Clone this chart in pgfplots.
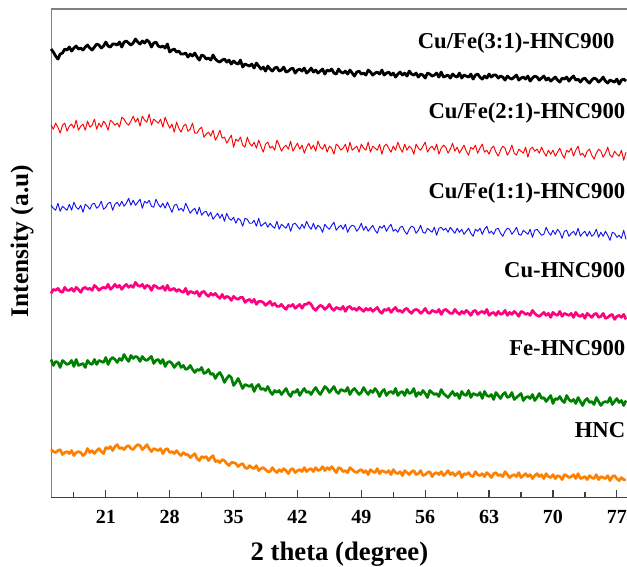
\documentclass[border=0pt]{standalone}
\usepackage{pgfplots}
\usepackage{pgfplotstable}
\pgfplotsset{compat=1.18}
\usepackage{fontspec}
\setmainfont{Liberation Serif}
\definecolor{cpink}{RGB}{255,0,127}
\definecolor{cgreen}{RGB}{0,128,0}
\definecolor{corange}{RGB}{255,128,0}
\definecolor{cblue}{RGB}{20,20,240}
\pgfplotstableread{
x bk rd bl pk gr or
15 448 372 292 204 138 48
15.25 445 368 289 208 132 46
15.5 441 374 287 207 136 45
15.75 438 370 294 209 135 47
16 443 364 286 206 130 48
16.25 444 372 291 205 137 43
16.5 448 374 289 210 135 45
16.75 447 366 287 207 133 46
17 450 371 293 207 134 44
17.25 446 373 287 209 137 47
17.5 449 369 295 206 131 42
17.75 451 377 290 210 138 45
18 448 367 288 208 132 46
18.25 449 371 292 205 133 45
18.5 447 373 285 209 134 42
18.75 450 367 293 210 130 44
19 452 376 291 208 137 49
19.25 449 370 288 209 134 45
19.5 447 372 293 207 133 47
19.75 450 378 294 212 138 44
20 453 368 289 210 133 47
20.25 452 374 291 207 137 49
20.5 449 370 296 209 136 46
20.75 451 376 288 210 135 44
21 455 373 290 209 140 50
21.25 451 367 294 213 133 49
21.5 450 377 295 208 138 51
21.75 453 375 287 210 140 47
22 453 372 293 213 138 51
22.25 452 374 295 210 135 53
22.5 455 370 291 212 139 49
22.75 450 380 296 208 137 50
23 455 378 291 211 143 48
23.25 456 374 294 213 139 51
23.5 454 372 299 210 136 52
23.75 452 376 292 212 142 49
24 454 381 297 210 139 48
24.25 458 375 292 215 141 51
24.5 455 379 295 212 140 53
24.75 453 371 298 211 136 52
25 456 381 289 213 141 48
25.25 454 377 296 209 138 50
25.5 457 375 294 212 137 53
25.75 455 383 297 211 139 49
26 450 372 291 207 141 46
26.25 454 378 290 212 134 49
26.5 455 376 298 211 137 48
26.75 451 374 293 209 138 47
27 450 378 290 209 134 49
27.25 451 370 294 211 138 44
27.5 449 380 289 207 131 48
27.75 453 374 295 212 135 49
28 445 369 290 207 136 45
28.25 447 373 285 208 134 46
28.5 448 365 292 209 130 44
28.75 445 375 293 206 133 47
29 446 369 287 208 135 44
29.25 443 365 289 206 130 42
29.5 443 371 286 205 132 45
29.75 444 373 294 209 128 43
30 440 366 289 203 129 43
30.25 443 368 284 206 132 40
30.5 441 374 287 205 128 42
30.75 444 364 289 204 125 44
31 440 364 283 206 128 39
31.25 437 368 290 201 127 37
31.5 442 370 282 205 130 41
31.75 441 360 285 206 124 40
32 438 363 286 203 125 41
32.25 439 365 281 201 128 37
32.5 437 361 285 204 123 40
32.75 442 367 278 202 124 42
33 438 357 281 204 119 36
33.25 436 361 284 201 123 37
33.5 435 367 279 199 125 35
33.75 437 359 283 203 121 38
34 438 360 276 199 115 37
34.25 435 354 284 201 119 34
34.5 437 358 279 200 122 32
34.75 433 362 277 197 120 35
35 436 350 280 201 112 35
35.25 434 358 274 199 115 34
35.5 433 356 279 198 119 31
35.75 437 360 277 200 114 33
36 430 352 271 200 109 34
36.25 433 350 279 195 113 30
36.5 432 360 278 197 112 29
36.75 431 354 274 198 111 32
37 433 351 274 195 113 30
37.25 429 355 277 198 106 29
37.5 434 349 271 193 111 32
37.75 431 357 279 196 113 27
38 428 351 271 196 108 29
38.25 430 345 273 195 109 30
38.5 426 353 275 192 107 28
38.75 431 355 270 194 111 26
39 428 349 274 196 106 26
39.25 426 351 271 192 103 30
39.5 429 347 269 194 107 27
39.75 430 357 276 191 105 25
40 426 352 268 191 107 28
40.25 427 346 273 193 103 26
40.5 430 350 271 190 106 29
40.75 425 352 269 188 109 27
41 426 348 274 192 104 24
41.25 428 356 266 191 101 28
41.5 429 346 273 193 106 29
41.75 424 350 274 189 105 25
42 427 354 271 191 108 27
42.25 428 348 268 193 102 28
42.5 426 352 273 189 106 26
42.75 429 344 269 193 109 30
43 424 350 276 193 105 26
43.25 426 354 271 195 106 28
43.5 429 348 268 193 103 29
43.75 425 352 274 189 107 26
44 427 346 268 187 110 30
44.25 424 356 272 190 106 27
44.5 426 350 270 192 103 28
44.75 428 348 265 191 107 31
45 423 353 273 188 111 27
45.25 427 345 270 190 109 30
45.5 426 351 268 193 105 28
45.75 428 349 272 189 108 31
46 424 343 275 187 111 28
46.25 423 353 267 190 106 25
46.5 428 351 270 189 104 30
46.75 425 347 272 188 108 29
47 424 349 268 191 107 26
47.25 426 353 273 186 106 27
47.5 423 345 265 190 110 25
47.75 427 355 270 191 103 30
48 424 347 272 188 107 28
48.25 421 349 271 189 109 26
48.5 425 351 266 187 106 25
48.75 426 345 269 190 103 27
49 423 353 274 188 105 28
49.25 424 349 267 186 110 25
49.5 422 347 271 189 106 27
49.75 427 355 266 187 103 23
50 425 345 269 189 107 28
50.25 422 351 272 186 105 26
50.5 424 349 267 188 109 25
50.75 425 347 264 190 106 29
51 423 353 271 186 101 24
51.25 427 343 269 184 106 27
51.5 422 351 272 188 108 26
51.75 424 353 266 187 102 25
52 425 349 270 189 105 27
52.25 422 345 273 185 106 23
52.5 424 351 266 188 104 28
52.75 420 347 268 190 109 25
53 423 355 265 186 102 24
53.25 425 349 270 187 105 26
53.5 422 345 271 185 106 22
53.75 424 353 266 188 102 27
54 421 347 263 189 108 25
54.25 426 351 268 186 104 23
54.5 423 349 271 184 105 26
54.75 422 343 270 187 109 27
55 424 353 264 188 101 23
55.25 420 349 267 187 105 24
55.5 423 347 272 184 103 27
55.75 422 351 265 186 107 22
56 419 355 264 189 104 23
56.25 424 345 269 185 100 25
56.5 423 349 267 184 107 26
56.75 421 351 265 187 105 21
57 422 347 270 186 103 24
57.25 424 353 262 185 104 25
57.5 420 343 269 188 101 23
57.75 425 349 270 183 108 26
58 420 352 267 187 104 22
58.25 421 350 269 188 102 24
58.5 422 344 265 186 100 27
58.75 419 348 270 184 103 23
59 423 354 267 184 106 25
59.25 421 346 264 188 102 22
59.5 420 350 269 185 104 24
59.75 424 344 265 183 99 26
60 419 348 268 186 106 20
60.25 422 352 263 184 103 24
60.5 421 346 266 187 102 23
60.75 420 342 269 185 107 25
61 423 350 264 182 100 22
61.25 418 348 261 186 104 21
61.5 422 352 268 187 103 26
61.75 423 344 266 183 102 23
62 420 349 269 185 105 22
62.25 418 353 263 186 99 24
62.5 421 345 268 184 106 21
62.75 419 347 271 188 102 25
63 423 343 264 182 101 23
63.25 420 349 266 184 103 20
63.5 422 351 263 185 98 24
63.75 422 345 268 182 105 25
64 419 341 269 186 102 22
64.25 421 347 264 183 99 23
64.5 420 351 261 184 103 21
64.75 417 349 266 187 105 26
65 421 342 269 182 100 23
65.25 419 346 268 185 101 20
65.5 418 352 263 183 105 22
65.75 420 344 266 186 98 23
66 422 342 270 184 100 21
66.25 417 348 263 181 102 25
66.5 419 346 262 186 104 20
66.75 420 344 267 185 97 22
67 418 350 265 183 100 24
67.25 421 340 263 184 101 21
67.5 416 348 268 182 99 23
67.75 419 350 260 187 103 19
68 421 346 267 184 97 22
68.25 420 348 268 182 100 24
68.5 417 344 265 181 104 21
68.75 419 350 262 183 99 23
69 421 345 263 185 100 19
69.25 417 341 270 182 96 24
69.5 419 347 265 184 99 21
69.75 416 343 262 180 102 20
70 418 347 267 185 94 23
70.25 420 341 263 183 99 19
70.5 417 345 268 182 98 22
70.75 415 349 265 186 101 21
71 419 343 259 181 97 18
71.25 418 339 266 184 95 23
71.5 420 347 267 183 102 22
71.75 416 345 261 182 98 20
72 419 349 264 184 96 21
72.25 421 341 266 180 98 23
72.5 417 347 262 185 94 19
72.75 418 351 269 182 100 24
73 415 342 261 181 96 19
73.25 418 344 264 183 92 20
73.5 419 340 266 179 97 21
73.75 416 346 261 184 99 18
74 414 348 266 182 95 22
74.25 417 342 261 180 96 20
74.5 419 338 263 183 93 19
74.75 418 344 268 184 100 23
75 415 348 260 180 96 18
75.25 417 346 265 181 92 21
75.5 420 340 261 184 95 20
75.75 416 344 266 179 96 19
76 414 350 262 180 95 22
76.25 417 342 257 182 100 17
76.5 416 340 265 183 93 21
76.75 415 346 264 178 96 22
77 418 343 260 181 99 19
77.25 413 341 262 182 95 17
77.5 417 347 259 180 97 20
77.75 418 337 267 183 92 18
78 416 345 258 178 97 18
}\xrd
\begin{document}
\begin{tikzpicture}
\begin{axis}[
  at={(0,0)}, anchor=south west,
  scale only axis, width=432pt, height=366pt,
  xmin=15, xmax=78.2, ymin=0, ymax=488,
  xtick={21,28,35,42,49,56,63,70,77},
  minor xtick={17.5,24.5,31.5,38.5,45.5,52.5,59.5,66.5,73.5},
  ytick=\empty,
  xtick pos=bottom,
  tick align=inside,
  major tick length=6pt, minor tick length=4pt,
  every tick/.append style={black!75, line width=0.9pt},
  every minor tick/.append style={black!75, line width=0.9pt},
  axis line style={gray, line width=0.8pt},
  /pgf/number format/assume math mode=true,
  x tick label style={font=\fontsize{15}{18}\selectfont\bfseries, yshift=-6pt},
  xlabel={2 theta (degree)},
  ylabel={Intensity (a.u)},
  xlabel style={font=\fontsize{20}{24}\selectfont\bfseries, at={(axis description cs:0.5,-0.115)}, anchor=center},
  ylabel style={font=\fontsize{19}{23}\selectfont\bfseries, at={(axis description cs:-0.0503,0.525)}, anchor=center},
  clip=false,
  every axis plot/.append style={line join=round},
]
\draw[black!75, line width=0.9pt] (rel axis cs:0,0) -- (rel axis cs:1,0);
\addplot[black, line width=2.1pt] table[x=x, y=bk] {\xrd};
\addplot[red, line width=0.7pt] table[x=x, y=rd] {\xrd};
\addplot[cblue, line width=0.7pt] table[x=x, y=bl] {\xrd};
\addplot[cpink, line width=2pt] table[x=x, y=pk] {\xrd};
\addplot[cgreen, line width=2pt] table[x=x, y=gr] {\xrd};
\addplot[corange, line width=2pt] table[x=x, y=or] {\xrd};
\begin{scope}[every node/.style={font=\fontsize{17}{20}\selectfont\bfseries, inner sep=0pt}]
\node[anchor=east] at (axis cs:76.77,454) {Cu/Fe(3:1)-HNC900};
\node[anchor=east] at (axis cs:77.95,384) {Cu/Fe(2:1)-HNC900};
\node[anchor=east] at (axis cs:77.95,304) {Cu/Fe(1:1)-HNC900};
\node[anchor=east] at (axis cs:77.95,227) {Cu-HNC900};
\node[anchor=east] at (axis cs:77.95,149) {Fe-HNC900};
\node[anchor=east] at (axis cs:77.95,67) {HNC};
\end{scope}
\end{axis}
\pgfresetboundingbox
\path (-38.25pt,-51.75pt) rectangle (431.4pt,372.75pt);
\end{tikzpicture}
\end{document}
